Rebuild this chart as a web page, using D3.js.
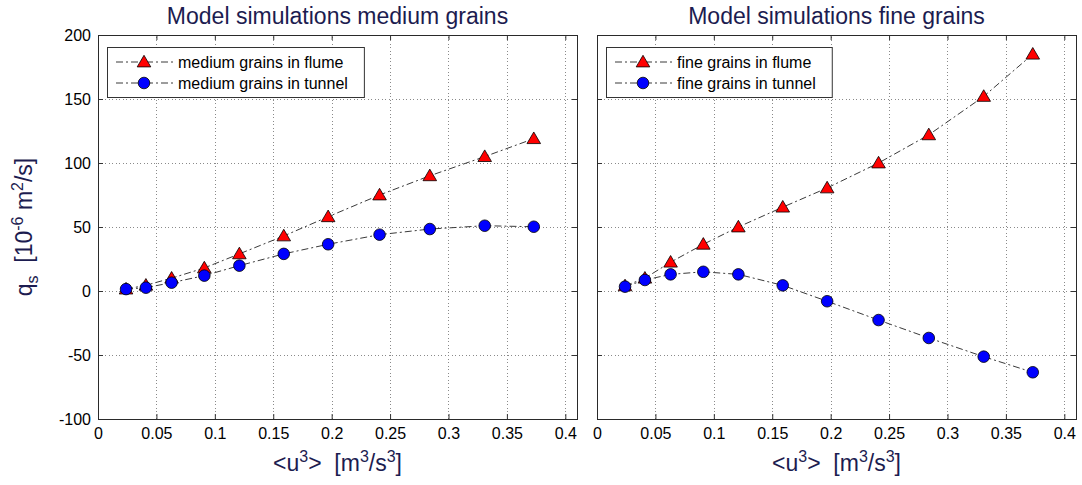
<!doctype html>
<html lang="en">
<head>
<meta charset="utf-8">
<title>Model simulations</title>
<script src="https://d3js.org/d3.v7.min.js"></script>
<style>
    body { margin: 0; background: #fff; }
    svg { display: block; font-family: "Liberation Sans", Arial, sans-serif; }
    .grid line { stroke: #8a8a8a; stroke-dasharray: 1, 2.5; shape-rendering: crispEdges; }
    .grid .domain { display: none; }
    .ticks line { stroke: #333; }
    .ticks .domain { display: none; }
    .ticks text { font-size: 16px; fill: #000; }
    .series { fill: none; stroke: #3a3a3a; stroke-width: 1; stroke-dasharray: 7, 3, 2, 3; }
    .title, .label { fill: #1c1c50; font-size: 23px; }
</style>
</head>
<body>
<svg width="1082" height="485"></svg>
<script>
    // x values shared by all four series: <u^3> in m^3/s^3
    var uCubed = [0.024, 0.041, 0.063, 0.091, 0.121, 0.159, 0.197, 0.241, 0.284, 0.331, 0.373];

    // q_s in 10^-6 m^2/s
    var mediumFlume  = [1.5, 4.5, 10, 18, 29, 43, 58, 75, 90, 105, 119];
    var mediumTunnel = [1.5, 2.6, 6.5, 12, 19.8, 29, 36.5, 44, 48.4, 51, 50.2];
    var fineFlume    = [4, 10, 22.5, 36.5, 50, 65.5, 80.5, 100, 122, 152, 185];
    var fineTunnel   = [3.4, 8.6, 13, 15, 13, 4.4, -8, -22.7, -36.7, -51.3, -63.5];

    var xTicks = [0, 0.05, 0.1, 0.15, 0.2, 0.25, 0.3, 0.35, 0.4];
    var yTicks = [-100, -50, 0, 50, 100, 150, 200];
    var xDomain = [0, 0.41];
    var yDomain = [-100, 200];

    var titles = ["Model simulations medium grains", "Model simulations fine grains"];
    var legendNames = [
        ["medium grains in flume", "medium grains in tunnel"],
        ["fine grains in flume", "fine grains in tunnel"]
    ];

    var svg = d3.select("svg");
    var top_ = 35, bottom = 419, w = 479, h = bottom - top_;
    var lefts = [98, 597];

    var triangle = "M0,-6.2L6.8,5.4L-6.8,5.4Z";

    function addMarkers(g, pts, kind) {
        if (kind == "tri") {
            g.selectAll(null).data(pts).enter().append("path")
                .attr("d", triangle)
                .attr("transform", function(d) { return "translate(" + d[0] + "," + (d[1] - 0.5) + ")"; })
                .attr("fill", "#ff0000").attr("stroke", "#000").attr("stroke-width", 0.8);
        } else {
            g.selectAll(null).data(pts).enter().append("circle")
                .attr("cx", function(d) { return d[0]; })
                .attr("cy", function(d) { return d[1]; })
                .attr("r", 5.8)
                .attr("fill", "#0000ff").attr("stroke", "#000").attr("stroke-width", 0.8);
        }
    }

    function drawPanel(p, flume, tunnel) {
        var g = svg.append("g").attr("transform", "translate(" + lefts[p] + "," + top_ + ")");

        var x = d3.scaleLinear().domain(xDomain).range([0, w]);
        var y = d3.scaleLinear().domain(yDomain).range([h, 0]);

        // dotted grid
        g.append("g").attr("class", "grid")
            .attr("transform", "translate(0," + h + ")")
            .call(d3.axisBottom(x).tickValues(xTicks).tickSize(-h).tickFormat(""));
        g.append("g").attr("class", "grid")
            .call(d3.axisLeft(y).tickValues(yTicks).tickSize(-w).tickFormat(""));

        // inward ticks on all four sides
        g.append("g").attr("class", "ticks")
            .attr("transform", "translate(0," + h + ")")
            .call(d3.axisBottom(x).tickValues(xTicks).tickSizeInner(-5).tickSizeOuter(0).tickPadding(9)
                .tickFormat(function(d) { return String(d); }));
        g.append("g").attr("class", "ticks")
            .call(d3.axisTop(x).tickValues(xTicks).tickSizeInner(-5).tickSizeOuter(0).tickFormat(""));
        var left = g.append("g").attr("class", "ticks")
            .call(d3.axisLeft(y).tickValues(yTicks).tickSizeInner(-5).tickSizeOuter(0).tickPadding(7)
                .tickFormat(function(d) { return p == 0 ? String(d) : ""; }));
        g.append("g").attr("class", "ticks")
            .attr("transform", "translate(" + w + ",0)")
            .call(d3.axisRight(y).tickValues(yTicks).tickSizeInner(-5).tickSizeOuter(0).tickFormat(""));

        g.append("rect")
            .attr("x", 0.5).attr("y", 0.5).attr("width", w).attr("height", h)
            .attr("fill", "none").attr("stroke", "#2a2a2a").attr("stroke-width", 1);

        var line = d3.line()
            .x(function(d) { return x(d[0]); })
            .y(function(d) { return y(d[1]); });

        var flumePts = uCubed.map(function(u, i) { return [u, flume[i]]; });
        var tunnelPts = uCubed.map(function(u, i) { return [u, tunnel[i]]; });

        g.append("path").attr("class", "series").attr("d", line(flumePts));
        g.append("path").attr("class", "series").attr("d", line(tunnelPts));

        addMarkers(g, flumePts.map(function(d) { return [x(d[0]), y(d[1])]; }), "tri");
        addMarkers(g, tunnelPts.map(function(d) { return [x(d[0]), y(d[1])]; }), "circ");

        // legend
        var lg = g.append("g").attr("transform", "translate(9,12)");
        var box = lg.append("rect")
            .attr("x", 0.5).attr("y", 0.5).attr("height", 50)
            .attr("fill", "#fff").attr("stroke", "#333").attr("stroke-width", 1);
        var maxLen = 0;
        legendNames[p].forEach(function(name, i) {
            var ly = 15 + i * 21;
            lg.append("line").attr("class", "series")
                .attr("x1", 9).attr("x2", 66).attr("y1", ly).attr("y2", ly);
            addMarkers(lg, [[37, ly]], i == 0 ? "tri" : "circ");
            var t = lg.append("text")
                .attr("x", 71).attr("y", ly).attr("dy", "0.35em")
                .style("font-size", "16px").attr("fill", "#000")
                .text(name);
            maxLen = Math.max(maxLen, t.node().getComputedTextLength());
        });
        box.attr("width", 71 + maxLen + 16);

        // title
        svg.append("text").attr("class", "title")
            .attr("x", lefts[p] + w / 2).attr("y", 24)
            .attr("text-anchor", "middle")
            .text(titles[p]);

        // x label <u^3>  [m^3/s^3]
        var xl = svg.append("text").attr("class", "label")
            .attr("x", lefts[p] + w / 2).attr("y", 471)
            .attr("text-anchor", "middle");
        xl.append("tspan").text("<u");
        xl.append("tspan").attr("dy", -9).style("font-size", "16px").text("3");
        xl.append("tspan").attr("dy", 9).text(">\u00a0\u00a0[m");
        xl.append("tspan").attr("dy", -9).style("font-size", "16px").text("3");
        xl.append("tspan").attr("dy", 9).text("/s");
        xl.append("tspan").attr("dy", -9).style("font-size", "16px").text("3");
        xl.append("tspan").attr("dy", 9).text("]");
    }

    drawPanel(0, mediumFlume, mediumTunnel);
    drawPanel(1, fineFlume, fineTunnel);

    // y label q_s  [10^-6 m^2/s]
    var yl = svg.append("text").attr("class", "label")
        .attr("transform", "translate(32," + (top_ + h / 2) + ") rotate(-90)")
        .attr("text-anchor", "middle");
    yl.append("tspan").text("q");
    yl.append("tspan").attr("dy", 6).style("font-size", "16px").text("s");
    yl.append("tspan").attr("dy", -6).text("\u00a0\u00a0[10");
    yl.append("tspan").attr("dy", -9).style("font-size", "16px").text("-6");
    yl.append("tspan").attr("dy", 9).text("\u00a0m");
    yl.append("tspan").attr("dy", -9).style("font-size", "16px").text("2");
    yl.append("tspan").attr("dy", 9).text("/s]");
</script>
</body>
</html>
